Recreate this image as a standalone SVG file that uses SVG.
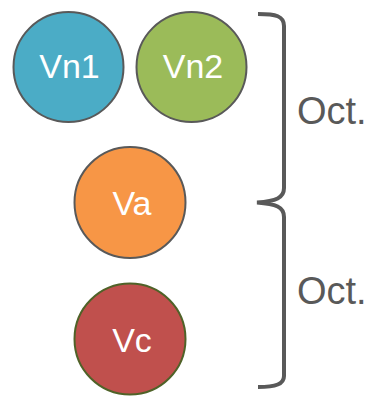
<svg xmlns="http://www.w3.org/2000/svg" width="370" height="396" viewBox="0 0 370 396">
<style>
.node{stroke:#595959;stroke-width:2}
.lbl{font-family:"Liberation Sans",Arial,sans-serif;font-size:34px;fill:#ffffff;text-anchor:middle}
.oct{font-family:"Liberation Sans",Arial,sans-serif;font-size:38px;fill:#595959}
.brace{fill:none;stroke:#595959;stroke-width:4;stroke-linecap:butt}
</style>
<rect width="370" height="396" fill="#ffffff"/>
<g id="vn1"><circle class="node" cx="68.5" cy="67" r="55" fill="#4BACC6"/><text class="lbl" x="69.5" y="78">Vn1</text></g>
<g id="vn2"><circle class="node" cx="191.5" cy="67" r="55" fill="#9BBB59"/><text class="lbl" x="193" y="78">Vn2</text></g>
<g id="va"><circle class="node" cx="130" cy="202.5" r="55.5" fill="#F79646"/><text class="lbl" x="132" y="215">Va</text></g>
<g id="vc"><circle class="node" cx="130" cy="339" r="55.5" fill="#C0504D" stroke="#4F6228" style="stroke:#4F6228"/><text class="lbl" x="132" y="352">Vc</text></g>
<g id="connectors">
<path class="brace" d="M258 14 C276 14 284 16 284 26 L284 188 C284 198 276 201 257 202.5 C276 204 284 207 284 217 L284 376 C284 384 276 387 258 387"/>
</g>
<text class="oct" x="297" y="124">Oct.</text>
<text class="oct" x="297" y="304">Oct.</text>
</svg>
